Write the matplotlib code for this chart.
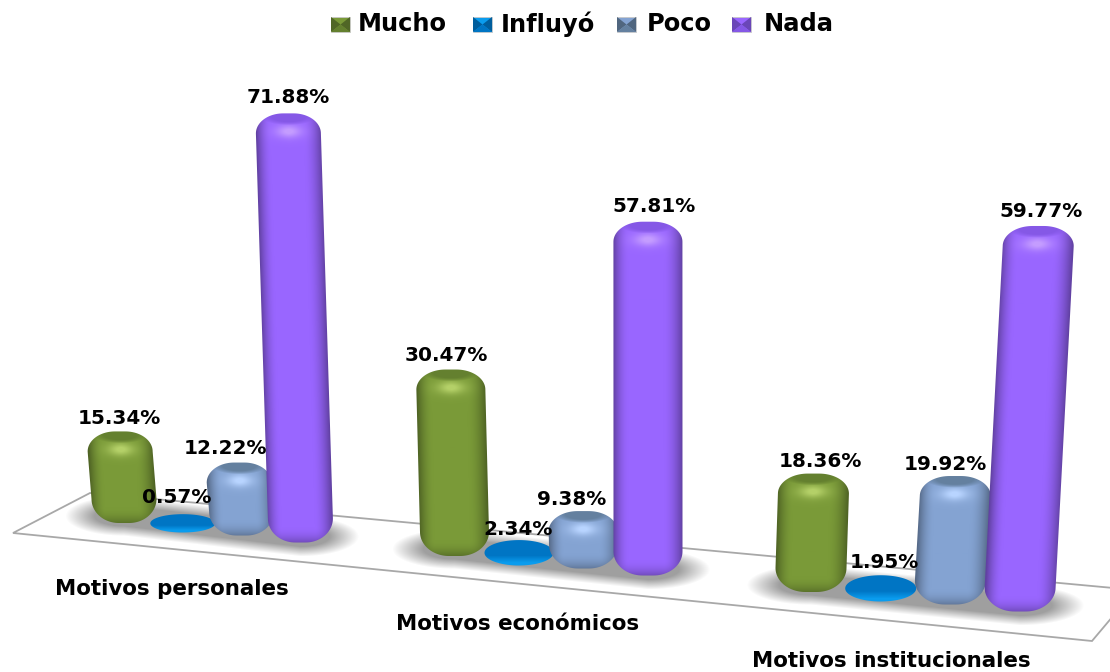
#!/usr/bin/env python3
"""Fake 3D cylinder chart: motives by level of influence."""

import matplotlib

matplotlib.use("Agg")

import matplotlib.pyplot as plt
import numpy as np
from matplotlib.colors import to_rgb
from matplotlib.patches import Polygon

CATEGORIES = ["Motivos personales", "Motivos económicos", "Motivos institucionales"]
SERIES = ["Mucho", "Influyó", "Poco", "Nada"]
MUCHO = [15.34, 30.47, 18.36]
INFLUYO = [0.57, 2.34, 1.95]
POCO = [12.22, 9.38, 19.92]
NADA = [71.88, 57.81, 59.77]

# floor layout, in pixels of the picture
CAT_X = [124, 454.5, 811]
CAT_Y = [523, 556, 592]
CAT_STEP = [58.8, 64.5, 69.7]
CAT_WIDTH = [65, 69, 71]
CAT_DISK = [9, 12, 12.5]
CAT_SCALE = [5.97, 6.12, 6.45]
CAT_LEAN = [0.8e-4, 1.0e-4, 1.27e-4]
SER_DY = [0, 9.5, 12.5, 19.5]
LABEL_NUDGE = [
    [(-1, -13), (-6, -17), (-14, -14), (0, -16)],
    [(-5, -14), (-1, -11), (-11, -12), (6, -15)],
    [(7, -12), (4, -13), (-10, -12), (3, -14)],
]
CAT_LABEL_POS = [(172, 589), (518, 624), (891, 661)]

FACE = ["#7a9a38", "#0a9cee", "#84a3d2", "#9966ff"]
CAP = ["#64802f", "#0075c4", "#64809f", "#8558e6"]
SHINE = ["#b4d068", "#66c8ff", "#b8d4ff", "#c49cff"]
LEGEND_X = [331, 473, 617, 732]
LEGEND_TEXT_X = [358, 501, 647, 764]
FONT = "DejaVu Sans"


def mix(a, b, t):
    t = np.clip(t, 0, 1)[..., None]
    return np.asarray(a) * (1 - t) + np.asarray(b) * t


def cylinder_outline(cx, bottom, width, height, lean):
    """Rounded silhouette, shifted sideways at the top."""
    rx = width * 0.42
    ry_top = min(20, height / 2)
    ry_bot = min(24, height / 2)
    t = np.linspace(0, np.pi / 2, 24)
    hw = width / 2
    top = bottom - height
    shift = lean * height
    left_bot = [(cx - hw + rx - rx * np.cos(a), bottom - ry_bot + ry_bot * np.sin(a)) for a in t]
    right_bot = [(cx + hw - rx + rx * np.cos(a), bottom - ry_bot + ry_bot * np.sin(a)) for a in t[::-1]]
    right_top = [(cx + hw - rx + shift + rx * np.cos(a), top + ry_top - ry_top * np.sin(a)) for a in t]
    left_top = [(cx - hw + rx + shift - rx * np.cos(a), top + ry_top - ry_top * np.sin(a)) for a in t[::-1]]
    return np.array(left_bot + right_bot + right_top + left_top)


def cylinder_image(cx, bottom, width, height, lean, s, flat):
    x0, x1 = min(cx, cx + lean * height) - width, max(cx, cx + lean * height) + width
    y0, y1 = bottom - height - 2, bottom + 2
    xs = np.arange(np.floor(x0), np.ceil(x1))
    ys = np.arange(np.floor(y0), np.ceil(y1))
    X, Y = np.meshgrid(xs + 0.5, ys + 0.5)
    centre = cx + lean * (bottom - Y)
    u = (X - centre) / (width / 2)
    v = Y - (bottom - height)
    face, cap, shine = map(to_rgb, (FACE[s], CAP[s], SHINE[s]))
    dark = np.asarray(face) * 0.6

    if flat:
        rgb = mix(cap, face, (v / height - 0.6) * 3.5)
    else:
        rgb = np.ones(X.shape + (3,)) * np.asarray(face)
        # soft dark rim on both sides, a bit wider on the right
        edge = np.clip(np.where(u < 0, (np.abs(u) - 0.55) / 0.45, (np.abs(u) - 0.45) / 0.55), 0, 1)
        rgb = mix(rgb, dark, edge**1.8 * 0.9)
        # bottom rounding
        low = np.clip((v - height + 16) / 16, 0, 1)
        rgb = mix(rgb, dark, low**2 * 0.65)
        # glow under the cap
        glow = np.exp(-((u / 0.38) ** 2) - ((v - 18) / 6) ** 2)
        band = np.exp(-(((v - 18) / 10) ** 2)) * np.clip(1 - np.abs(u), 0, 1)
        rgb = mix(rgb, shine, glow * 0.85 + band * 0.25)
        # flat cap seen from above, fading into the glow
        inside = (u / 0.78) ** 2 + ((v - 3) / 8.0) ** 2
        rgb = mix(rgb, cap, (1.2 - inside) * 1.3)
    return rgb, (xs[0], xs[-1] + 1, ys[-1] + 1, ys[0])


def foot(c, s):
    x = CAT_X[c] + CAT_STEP[c] * s
    y = CAT_Y[c] + SER_DY[s]
    return x, y


def draw_shadows(ax):
    # one blurred band under each group
    X, Y = np.meshgrid(np.arange(1110) + 0.5, np.arange(672) + 0.5)
    alpha = np.zeros(X.shape)
    last = len(SERIES) - 1
    for c in range(len(CATEGORIES)):
        xa, ya = foot(c, 0)
        xb, yb = foot(c, last)
        ya, yb = ya - 7, yb - 6
        t = np.clip((X - xa) / (xb - xa), 0, 1)
        dx = (X - (xa + t * (xb - xa))) / (CAT_WIDTH[c] * 0.9)
        dy = (Y - (ya + t * (yb - ya))) / 20
        d = np.hypot(dx, dy)
        alpha = np.maximum(alpha, np.clip((1 - d) * 2.0, 0, 1) * 0.75)
    img = np.zeros(X.shape + (4,))
    img[..., :3] = 0.5
    img[..., 3] = alpha
    ax.imshow(img, extent=(0, 1110, 672, 0), aspect="auto", zorder=2)


def draw_cylinder(ax, c, s, value, zorder):
    x, bottom = foot(c, s)
    width = CAT_WIDTH[c]
    disk = CAT_DISK[c]
    height = max(CAT_SCALE[c] * value, 2 * disk + CAT_SCALE[c] * value * 0.1)
    flat = value < 3
    lean = 0 if flat else (x - 650) * CAT_LEAN[c]
    rgb, extent = cylinder_image(x, bottom, width, height, lean, s, flat)
    if flat:
        t = np.linspace(0, 2 * np.pi, 100)
        outline = np.column_stack(
            [x + width / 2 * np.cos(t), bottom - height / 2 + height / 2 * np.sin(t)]
        )
    else:
        outline = cylinder_outline(x, bottom, width, height, lean)
    patch = Polygon(outline, closed=True, facecolor="none", edgecolor="none", zorder=zorder)
    ax.add_patch(patch)
    im = ax.imshow(rgb, extent=extent, aspect="auto", interpolation="bilinear", zorder=zorder)
    im.set_clip_path(patch)
    return x + lean * height, bottom - height


def draw_legend_key(ax, x, s):
    size, y = 19, 17
    cx, cy = x + size / 2, y + 7.5
    ax.add_patch(Polygon([(x, y), (x + size, y), (x + size, y + 15), (x, y + 15)],
                         facecolor=FACE[s], edgecolor="#c8c8c8", linewidth=0.6, zorder=6))
    dark = np.asarray(to_rgb(CAP[s])) * 0.8
    ax.add_patch(Polygon([(x, y), (cx, cy), (x, y + 15)], facecolor=dark, edgecolor="none", zorder=7))
    ax.add_patch(Polygon([(x + size, y), (cx, cy), (x + size, y + 15)], facecolor=dark, edgecolor="none", zorder=7))
    ax.add_patch(Polygon([(x, y + 15), (cx, cy), (x + size, y + 15)], facecolor=CAP[s], edgecolor="none", zorder=7))


def main():
    values = [MUCHO, INFLUYO, POCO, NADA]

    fig = plt.figure(figsize=(11.1, 6.72), dpi=100)
    ax = fig.add_axes([0, 0, 1, 1])
    ax.axis("off")

    # floor
    ax.add_patch(Polygon([(13, 533), (1092, 641), (1135, 590), (90, 493)], closed=True,
                         facecolor="white", edgecolor="#a8a8a8", linewidth=1.3, zorder=1))
    draw_shadows(ax)

    zorder = 3.0
    tops = {}
    for c in range(len(CATEGORIES)):
        for s in range(len(SERIES)):
            tops[c, s] = draw_cylinder(ax, c, s, values[s][c], zorder)
            zorder += 0.01

    for c in range(len(CATEGORIES)):
        for s in range(len(SERIES)):
            x, y = tops[c, s]
            dx, dy = LABEL_NUDGE[c][s]
            ax.text(x + dx, y + dy, f"{values[s][c]:.2f}%", ha="center", va="center",
                    fontsize=14.4, fontweight="bold", family=FONT, color="black", zorder=8)
        px, py = CAT_LABEL_POS[c]
        ax.text(px, py, CATEGORIES[c], ha="center", va="center",
                fontsize=15.4, fontweight="bold", family=FONT, color="black", zorder=8)

    for s, name in enumerate(SERIES):
        draw_legend_key(ax, LEGEND_X[s], s)
        ax.text(LEGEND_TEXT_X[s], 24, name, ha="left", va="center",
                fontsize=17.4, fontweight="bold", family=FONT, color="black", zorder=8)

    ax.set_xlim(0, 1110)
    ax.set_ylim(672, 0)
    fig.savefig("out.png", dpi=100, facecolor="white")
    plt.close(fig)


if __name__ == "__main__":
    main()
